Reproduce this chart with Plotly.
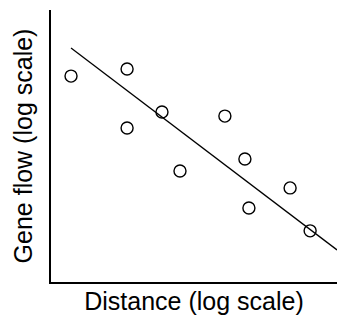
import plotly.graph_objects as go

# log distance (arbitrary units) and log gene flow (arbitrary units)
distance = [0.70, 2.66, 2.66, 3.88, 4.51, 6.08, 6.78, 6.92, 8.36, 9.06]
gene_flow = [7.57, 7.83, 5.66, 6.25, 4.08, 6.10, 4.52, 2.72, 3.46, 1.88]

fit_x = [0.70, 10.0]
fit_y = [8.60, 1.18]

fig = go.Figure()
fig.add_trace(go.Scatter(x=fit_x, y=fit_y, mode="lines",
                         line=dict(color="black", width=1.3), hoverinfo="skip"))
fig.add_trace(go.Scatter(x=distance, y=gene_flow, mode="markers",
                         marker=dict(symbol="circle-open", size=12,
                                     line=dict(color="black", width=1.4), color="black")))

axis_common = dict(showgrid=False, zeroline=False, showticklabels=False, ticks="",
                   showline=True, linecolor="black", linewidth=1.5, automargin=False)
fig.update_layout(
    width=337, height=328,
    margin=dict(l=51, r=0, t=10, b=46),
    paper_bgcolor="white", plot_bgcolor="white",
    showlegend=False,
    font=dict(family="Liberation Sans, Arial, sans-serif", color="black", size=21),
    xaxis=dict(range=[0, 10], title=dict(text="Distance (log scale)", standoff=10), **axis_common),
    yaxis=dict(range=[0, 10], title=dict(text="Gene flow (log scale)", standoff=10), **axis_common),
)
fig.write_html("out.html", config={"displayModeBar": False},
               post_script="document.body.style.margin='0';document.body.style.overflow='hidden';")
